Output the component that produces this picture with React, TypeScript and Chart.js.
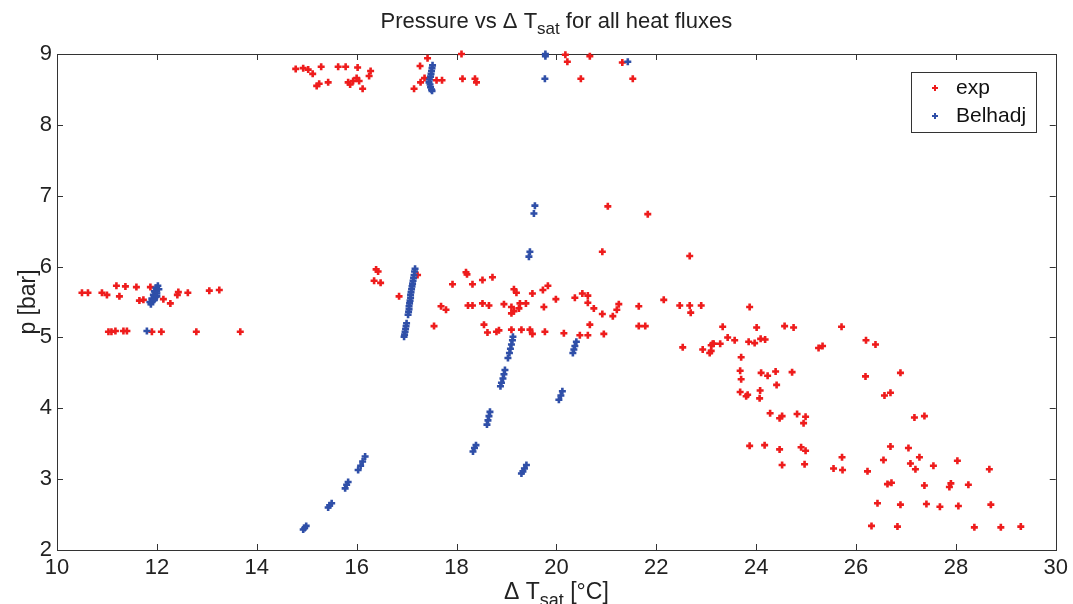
import React, { useEffect, useRef } from "react";
import { Chart, registerables } from "chart.js";

Chart.register(...registerables);

// Experimental data: [ΔT_sat (°C), p (bar)]
const expData: [number, number][] = [
  [14.78, 8.79], [14.93, 8.8], [15.03, 8.78], [15.12, 8.72], [15.29, 8.82], [15.63, 8.82], [15.78, 8.82], [16.02, 8.81],
  [16.28, 8.76], [16.25, 8.69], [15.2, 8.55], [15.25, 8.58], [15.43, 8.6], [15.83, 8.6], [15.87, 8.57], [15.93, 8.62],
  [16.0, 8.66], [16.05, 8.62], [16.12, 8.51],
  [17.42, 8.94], [17.27, 8.83], [17.15, 8.51], [17.28, 8.6], [17.36, 8.66], [17.6, 8.63], [17.71, 8.63], [18.1, 9.0],
  [18.12, 8.65], [18.37, 8.65], [18.4, 8.6], [20.18, 8.99], [20.22, 8.89], [20.67, 8.97], [20.49, 8.65], [21.32, 8.88],
  [21.53, 8.65],
  [10.5, 5.63], [10.62, 5.63], [10.9, 5.63], [11.0, 5.6], [11.19, 5.73], [11.25, 5.58], [11.37, 5.72], [11.59, 5.71],
  [11.87, 5.71], [11.65, 5.52], [11.73, 5.53], [12.13, 5.54], [12.27, 5.48], [12.41, 5.6], [12.43, 5.64], [12.62, 5.63],
  [13.05, 5.66], [13.25, 5.67],
  [11.03, 5.08], [11.09, 5.08], [11.17, 5.09], [11.33, 5.09], [11.4, 5.09], [11.9, 5.08], [12.09, 5.08], [12.79, 5.08],
  [13.67, 5.08],
  [16.39, 5.96], [16.43, 5.93], [16.35, 5.8], [16.48, 5.77], [16.85, 5.58], [17.22, 5.88], [17.55, 5.16], [17.69, 5.44],
  [17.79, 5.39], [17.92, 5.75], [18.19, 5.92], [18.21, 5.89], [18.32, 5.75], [18.52, 5.81], [18.72, 5.85], [18.23, 5.45],
  [18.32, 5.45], [18.52, 5.48], [18.65, 5.45], [18.55, 5.18], [18.62, 5.07], [18.8, 5.08], [18.85, 5.1], [18.95, 5.47],
  [19.15, 5.68], [19.2, 5.63], [19.1, 5.43], [19.15, 5.37], [19.1, 5.34], [19.27, 5.48], [19.39, 5.48], [19.25, 5.41],
  [19.1, 5.11], [19.3, 5.11], [19.47, 5.11], [19.52, 5.05], [19.52, 5.62], [19.75, 5.43], [19.73, 5.67], [19.83, 5.73],
  [19.77, 5.08], [19.99, 5.54], [20.15, 5.06], [20.37, 5.56], [20.52, 5.62], [20.63, 5.59], [20.63, 5.49], [20.75, 5.41],
  [20.47, 5.03], [20.63, 5.03], [20.67, 5.18], [20.92, 5.33], [20.95, 5.05], [21.13, 5.3], [21.21, 5.39], [21.25, 5.47],
  [21.03, 6.85], [21.83, 6.74], [20.92, 6.21], [22.67, 6.15], [21.65, 5.44], [21.65, 5.16], [21.78, 5.16], [22.15, 5.53],
  [22.47, 5.45], [22.67, 5.45], [22.69, 5.35], [22.9, 5.45], [22.53, 4.86], [22.93, 4.83], [23.1, 4.89], [23.15, 4.91],
  [23.87, 5.43], [23.33, 5.15], [24.01, 5.14], [24.57, 5.16], [24.75, 5.14], [25.71, 5.15], [23.43, 5.0], [23.57, 4.96],
  [23.85, 4.94], [23.97, 4.92], [24.09, 4.98], [24.18, 4.97], [23.1, 4.81], [23.07, 4.78], [23.13, 4.91], [23.28, 4.91],
  [25.25, 4.85], [25.33, 4.88], [26.2, 4.96], [26.39, 4.9], [23.7, 4.72], [23.68, 4.53], [23.7, 4.41], [24.1, 4.5],
  [24.23, 4.46], [24.39, 4.52], [24.72, 4.51], [24.41, 4.33], [23.68, 4.23], [23.8, 4.17], [23.83, 4.19], [24.08, 4.25],
  [24.07, 4.14], [26.19, 4.45], [26.89, 4.5], [26.57, 4.18], [26.69, 4.22], [24.28, 3.93], [24.47, 3.86], [24.52, 3.89],
  [24.82, 3.92], [24.99, 3.88], [24.95, 3.79], [27.17, 3.87], [27.37, 3.89],
  [23.87, 3.47], [24.17, 3.48], [24.47, 3.42], [24.9, 3.45], [24.99, 3.4], [24.52, 3.2], [24.97, 3.21], [25.55, 3.15],
  [25.72, 3.31], [25.73, 3.13], [26.23, 3.11], [26.69, 3.46], [26.55, 3.27], [27.05, 3.44], [27.27, 3.31], [27.09, 3.22],
  [27.19, 3.14], [27.55, 3.19], [28.03, 3.26], [28.67, 3.14], [26.63, 2.93], [26.71, 2.95], [27.37, 2.91], [27.87, 2.89],
  [27.9, 2.94], [28.25, 2.92], [26.43, 2.66], [26.89, 2.64], [27.41, 2.65], [27.68, 2.61], [28.05, 2.62], [28.7, 2.64],
  [26.31, 2.34], [26.83, 2.33], [28.37, 2.32], [28.9, 2.32], [29.3, 2.33],
];

// Belhadj correlation: [ΔT_sat (°C), p (bar)]
const belhadjData: [number, number][] = [
  [17.52, 8.84], [17.51, 8.8], [17.5, 8.76], [17.49, 8.72], [17.48, 8.68], [17.46, 8.64], [17.45, 8.6], [17.47, 8.57],
  [17.48, 8.53], [17.5, 8.5], [17.51, 8.48], [19.78, 9.0], [19.78, 8.97], [19.77, 8.65], [21.43, 8.89],
  [11.86, 5.5], [11.9, 5.55], [11.93, 5.6], [11.95, 5.65], [11.98, 5.7], [12.02, 5.73], [12.0, 5.62], [11.92, 5.52],
  [11.97, 5.57], [12.04, 5.68], [11.88, 5.47], [11.95, 5.53], [12.0, 5.58], [11.8, 5.09],
  [17.17, 5.97], [17.16, 5.93], [17.15, 5.88], [17.14, 5.84], [17.13, 5.8], [17.12, 5.76], [17.11, 5.72], [17.1, 5.68],
  [17.09, 5.64], [17.08, 5.6], [17.08, 5.56], [17.07, 5.52], [17.06, 5.48], [17.05, 5.44], [17.05, 5.4], [17.04, 5.36],
  [17.03, 5.32], [17.0, 5.2], [16.99, 5.16], [16.98, 5.12], [16.97, 5.08], [16.96, 5.04], [16.95, 5.01],
  [19.57, 6.86], [19.55, 6.75], [19.47, 6.21], [19.45, 6.14],
  [19.13, 5.01], [19.12, 4.96], [19.1, 4.9], [19.08, 4.84], [19.06, 4.78], [19.03, 4.71], [18.97, 4.54], [18.95, 4.48],
  [18.93, 4.42], [18.9, 4.36], [18.88, 4.31], [18.67, 3.95], [18.65, 3.89], [18.63, 3.83], [18.61, 3.77], [18.39, 3.48],
  [18.36, 3.44], [18.33, 3.39], [19.4, 3.2], [19.36, 3.15], [19.33, 3.11], [19.3, 3.08], [20.4, 4.94], [20.37, 4.88],
  [20.35, 4.83], [20.33, 4.78], [20.12, 4.24], [20.09, 4.18], [20.05, 4.12], [16.17, 3.32], [16.12, 3.25], [16.08, 3.19],
  [16.03, 3.13], [15.83, 2.96], [15.8, 2.92], [15.77, 2.87], [15.5, 2.66], [15.46, 2.63], [15.43, 2.6], [14.99, 2.34],
  [14.96, 2.31], [14.93, 2.29],
];

const xTicks = [10, 12, 14, 16, 18, 20, 22, 24, 26, 28, 30];
const yTicks = [2, 3, 4, 5, 6, 7, 8, 9];
const seriesLabels = ["exp", "Belhadj"];
const seriesColors = ["#ee1c1c", "#2f4fa8"];

const FONT = "'Liberation Sans', Arial, Helvetica, sans-serif";

function drawSub(ctx: CanvasRenderingContext2D, parts: { t: string; sub?: boolean }[], cx: number, baseY: number, size: number, subSize: number, subDrop: number) {
  let total = 0;
  for (const p of parts) {
    ctx.font = `${p.sub ? subSize : size}px ${FONT}`;
    total += ctx.measureText(p.t).width;
  }
  let x = cx - total / 2;
  ctx.textAlign = "left";
  ctx.textBaseline = "alphabetic";
  for (const p of parts) {
    ctx.font = `${p.sub ? subSize : size}px ${FONT}`;
    ctx.fillText(p.t, x, p.sub ? baseY + subDrop : baseY);
    x += ctx.measureText(p.t).width;
  }
}

const decorPlugin = {
  id: "matlabDecor",
  beforeDatasetsDraw(chart: any) {
    const { ctx, chartArea: a, scales } = chart;
    const xs = scales.x;
    const ys = scales.y;
    ctx.save();
    ctx.strokeStyle = "#333";
    ctx.lineWidth = 1;
    ctx.strokeRect(Math.round(a.left) + 0.5, Math.round(a.top) + 0.5, Math.round(a.right - a.left), Math.round(a.bottom - a.top));
    const tl = 6;
    ctx.beginPath();
    for (const v of xTicks) {
      const px = Math.round(xs.getPixelForValue(v)) + 0.5;
      ctx.moveTo(px, a.bottom);
      ctx.lineTo(px, a.bottom - tl);
      ctx.moveTo(px, a.top);
      ctx.lineTo(px, a.top + tl);
    }
    for (const v of yTicks) {
      const py = Math.round(ys.getPixelForValue(v)) + 0.5;
      ctx.moveTo(a.left, py);
      ctx.lineTo(a.left + tl, py);
      ctx.moveTo(a.right, py);
      ctx.lineTo(a.right - tl, py);
    }
    ctx.stroke();
    ctx.restore();
  },
  afterDatasetsDraw(chart: any) {
    const { ctx, chartArea: a } = chart;
    ctx.save();
    // legend box
    const lx = 911, ly = 72, lw = 125, lh = 60;
    ctx.fillStyle = "#fff";
    ctx.fillRect(lx, ly, lw, lh);
    ctx.strokeStyle = "#333";
    ctx.lineWidth = 1;
    ctx.strokeRect(lx + 0.5, ly + 0.5, lw, lh);
    const rowsY = [88, 116];
    seriesLabels.forEach((lab, i) => {
      ctx.strokeStyle = seriesColors[i];
      ctx.lineWidth = 2;
      const mx = 935, my = rowsY[i];
      ctx.beginPath();
      ctx.moveTo(mx - 3, my); ctx.lineTo(mx + 3, my);
      ctx.moveTo(mx, my - 3); ctx.lineTo(mx, my + 3);
      ctx.stroke();
      ctx.fillStyle = "#111";
      ctx.font = `21px ${FONT}`;
      ctx.textAlign = "left";
      ctx.textBaseline = "middle";
      ctx.fillText(lab, 956, my);
    });

    // title
    ctx.fillStyle = "#222";
    const cx = (a.left + a.right) / 2;
    drawSub(ctx, [{ t: "Pressure vs \u0394 T" }, { t: "sat", sub: true }, { t: " for all heat fluxes" }], cx, 28, 22, 17, 6);
    // x label
    drawSub(ctx, [{ t: "\u0394 T" }, { t: "sat", sub: true }, { t: " [\u00B0C]" }], cx, 599, 23, 18, 7);
    // y label
    ctx.save();
    ctx.translate(35, (a.top + a.bottom) / 2);
    ctx.rotate(-Math.PI / 2);
    ctx.font = `23px ${FONT}`;
    ctx.textAlign = "center";
    ctx.textBaseline = "alphabetic";
    ctx.fillText("p [bar]", 0, 0);
    ctx.restore();
    ctx.restore();
  },
};

export default function App() {
  const ref = useRef<HTMLCanvasElement | null>(null);
  useEffect(() => {
    if (!ref.current) return;
    const mk = (d: [number, number][]) => d.map(([x, y]) => ({ x, y }));
    const chart = new Chart(ref.current, {
      type: "scatter",
      data: {
        datasets: [
          {
            label: seriesLabels[0],
            data: mk(expData),
            pointStyle: "cross",
            radius: 3.5,
            borderWidth: 2.6,
            borderColor: seriesColors[0],
            backgroundColor: seriesColors[0],
            clip: false,
            order: 2,
          },
          {
            label: seriesLabels[1],
            data: mk(belhadjData),
            pointStyle: "cross",
            radius: 3.5,
            borderWidth: 2.6,
            borderColor: seriesColors[1],
            backgroundColor: seriesColors[1],
            clip: false,
            order: 1,
          },
        ],
      },
      options: {
        responsive: false,
        animation: false,
        devicePixelRatio: 1,
        layout: { padding: { left: 0, right: 16, top: 54, bottom: 0 } },
        plugins: { legend: { display: false }, tooltip: { enabled: false }, title: { display: false } },
        scales: {
          x: {
            type: "linear",
            min: 10,
            max: 30,
            afterBuildTicks: (s: any) => { s.ticks = xTicks.map((v) => ({ value: v })); },
            afterFit: (s: any) => { s.height = 54; },
            grid: { display: false, drawTicks: false },
            border: { display: false },
            ticks: { font: { size: 22, family: FONT }, color: "#222", padding: 5, maxRotation: 0, autoSkip: false },
          },
          y: {
            type: "linear",
            min: 2,
            max: 9,
            afterBuildTicks: (s: any) => { s.ticks = yTicks.map((v) => ({ value: v })); },
            afterFit: (s: any) => { s.width = 57; },
            grid: { display: false, drawTicks: false },
            border: { display: false },
            ticks: { font: { size: 22, family: FONT }, color: "#222", padding: 5, autoSkip: false },
          },
        },
      },
      plugins: [decorPlugin],
    });
    return () => chart.destroy();
  }, []);
  return (
    <div style={{ position: "fixed", left: 0, top: 0, width: 1073, height: 604, background: "#fff" }}>
      <canvas ref={ref} width={1073} height={604} style={{ width: 1073, height: 604, display: "block" }} />
    </div>
  );
}
